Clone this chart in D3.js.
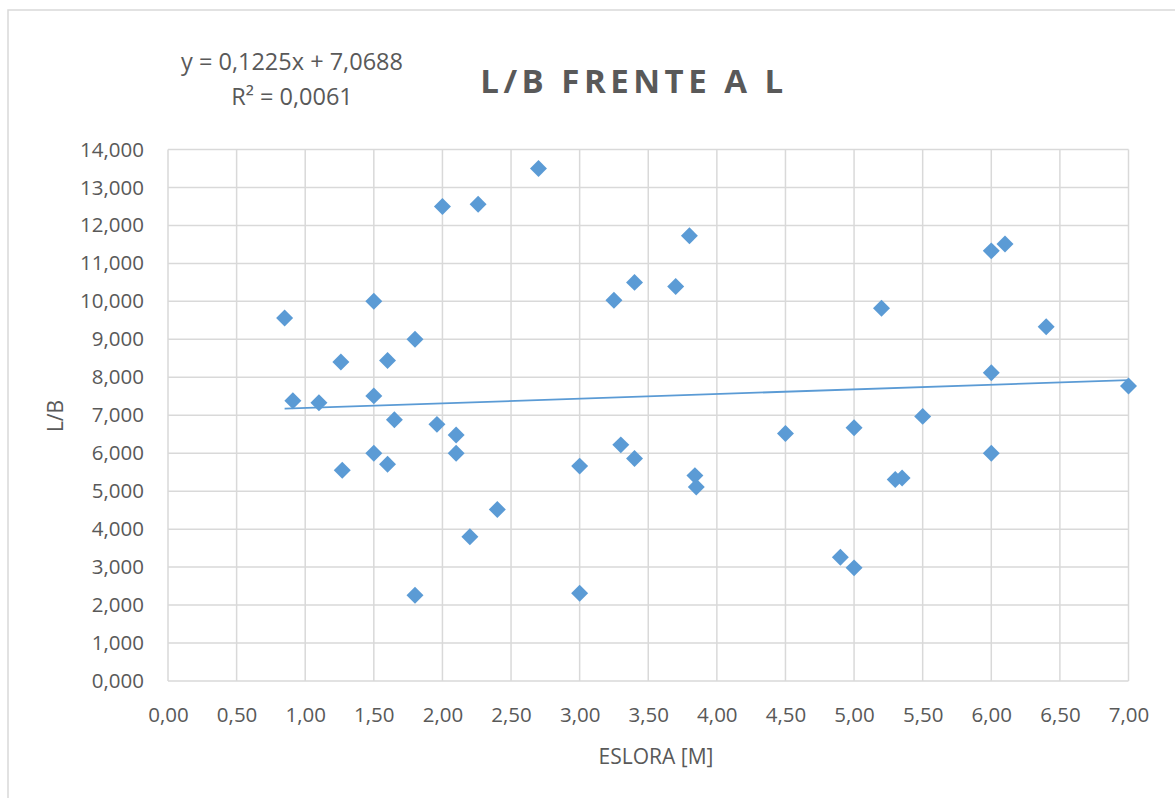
<!DOCTYPE html>
<html>
<head>
<meta charset="utf-8">
<script src="https://cdn.jsdelivr.net/npm/d3@7"></script>
<style>
  html, body { margin: 0; padding: 0; background: #ffffff; }
  svg { display: block; }
  text { font-family: "Open Sans", "DejaVu Sans", sans-serif; fill: #595959; }
</style>
</head>
<body>
<svg id="chart" width="1175" height="798"></svg>
<script>
// ---- Data ----
const eslora = [0.85, 0.91, 1.10, 1.26, 1.27, 1.50, 1.50, 1.50, 1.60, 1.60, 1.65, 1.80, 1.80, 1.96,
                2.00, 2.10, 2.10, 2.20, 2.26, 2.40, 2.70, 3.00, 3.00, 3.25, 3.30, 3.40, 3.40, 3.70,
                3.80, 3.84, 3.85, 4.50, 4.90, 5.00, 5.00, 5.20, 5.30, 5.35, 5.50, 6.00, 6.00, 6.00,
                6.10, 6.40, 7.00];
const lb =     [9.56, 7.38, 7.33, 8.40, 5.55, 10.00, 7.51, 6.00, 8.44, 5.71, 6.88, 9.00, 2.26, 6.76,
                12.50, 6.48, 6.00, 3.80, 12.56, 4.52, 13.50, 5.66, 2.31, 10.03, 6.22, 10.50, 5.86, 10.39,
                11.73, 5.41, 5.11, 6.52, 3.26, 6.67, 2.98, 9.82, 5.31, 5.35, 6.97, 11.33, 8.12, 6.00,
                11.51, 9.33, 7.77];
const xTicks = [0, 0.5, 1, 1.5, 2, 2.5, 3, 3.5, 4, 4.5, 5, 5.5, 6, 6.5, 7];
const yTicks = [0, 1, 2, 3, 4, 5, 6, 7, 8, 9, 10, 11, 12, 13, 14];
const trendSlope = 0.1225;
const trendIntercept = 7.0688;
const equationLines = ["y = 0,1225x + 7,0688", "R² = 0,0061"];
const titleText = "L/B FRENTE A L";
const xLabel = "ESLORA [M]";
const yLabel = "L/B";

// ---- Layout ----
const svg = d3.select("#chart");
const plot = { left: 168, right: 1128.5, top: 149.5, bottom: 681 };
const x = d3.scaleLinear().domain([0, 7]).range([plot.left, plot.right]);
const y = d3.scaleLinear().domain([0, 14]).range([plot.bottom, plot.top]);
const fmtX = v => d3.format(".2f")(v).replace(".", ",");
const fmtY = v => d3.format(".3f")(v).replace(".", ",");

// chart border
svg.append("rect").attr("x", 8).attr("y", 10).attr("width", 1180).attr("height", 800)
  .attr("fill", "#fff").attr("stroke", "#d9d9d9").attr("stroke-width", 1.5);

// gridlines
const grid = svg.append("g");
grid.selectAll("line.h").data(yTicks).enter().append("line")
  .attr("x1", plot.left).attr("x2", plot.right)
  .attr("y1", d => y(d)).attr("y2", d => y(d))
  .attr("stroke", "#d9d9d9").attr("stroke-width", 1.5);
grid.selectAll("line.v").data(xTicks).enter().append("line")
  .attr("y1", plot.top).attr("y2", plot.bottom)
  .attr("x1", d => x(d)).attr("x2", d => x(d))
  .attr("stroke", "#d9d9d9").attr("stroke-width", 1.5);

// axes (labels only, via d3 axes)
const xAxis = svg.append("g").attr("transform", `translate(0,${plot.bottom})`)
  .call(d3.axisBottom(x).tickValues(xTicks).tickFormat(fmtX).tickSize(0).tickPadding(26));
xAxis.select(".domain").remove();
xAxis.selectAll("text").style("font-size", "20.5px").attr("fill", "#595959")
  .style("font-family", '"Open Sans", sans-serif');

const yAxis = svg.append("g").attr("transform", `translate(${plot.left},0)`)
  .call(d3.axisLeft(y).tickValues(yTicks).tickFormat(fmtY).tickSize(0).tickPadding(24));
yAxis.select(".domain").remove();
yAxis.selectAll("text").style("font-size", "20.5px").attr("fill", "#595959")
  .style("font-family", '"Open Sans", sans-serif');

// axis titles
svg.append("text").attr("x", 656).attr("y", 764).attr("text-anchor", "middle")
  .style("font-size", "21px").text(xLabel);
svg.append("text").attr("transform", "translate(63,416) rotate(-90)").attr("text-anchor", "middle")
  .style("font-size", "21px").text(yLabel);

// title
svg.append("text").attr("x", 634).attr("y", 93).attr("text-anchor", "middle")
  .style("font-size", "33px").style("font-weight", "bold").style("letter-spacing", "4.5px")
  .text(titleText);

// equation
svg.append("text").attr("x", 292).attr("y", 70).attr("text-anchor", "middle")
  .style("font-size", "23.5px").text(equationLines[0]);
svg.append("text").attr("x", 292).attr("y", 105).attr("text-anchor", "middle")
  .style("font-size", "23.5px").text(equationLines[1]);

// trendline
const xMin = d3.min(eslora), xMax = d3.max(eslora);
svg.append("line")
  .attr("x1", x(xMin)).attr("y1", y(trendSlope * xMin + trendIntercept))
  .attr("x2", x(xMax)).attr("y2", y(trendSlope * xMax + trendIntercept))
  .attr("stroke", "#5b9bd5").attr("stroke-width", 1.8);

// points
const pts = eslora.map((v, i) => ({ x: v, y: lb[i] }));
svg.append("g").selectAll("path").data(pts).enter().append("path")
  .attr("d", d3.symbol(d3.symbolSquare, 144))
  .attr("transform", d => `translate(${x(d.x)},${y(d.y)}) rotate(45)`)
  .attr("fill", "#5b9bd5");
</script>
</body>
</html>
